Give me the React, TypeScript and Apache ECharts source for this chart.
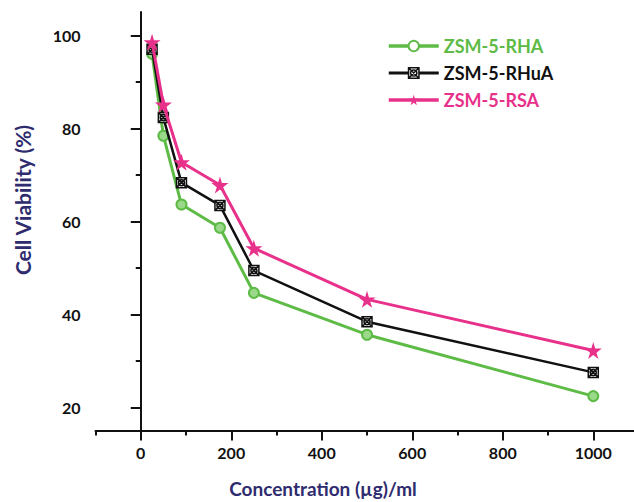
import React, { useEffect, useRef } from "react";
import * as echarts from "echarts";

const concentrations = [25, 50, 90, 175, 250, 500, 1000];
const rhaValues = [96.0, 78.4, 63.6, 58.6, 44.6, 35.6, 22.4];
const rhuaValues = [97.0, 82.3, 68.3, 63.4, 49.4, 38.4, 27.5];
const rsaValues = [98.5, 85.1, 72.7, 67.8, 54.2, 43.2, 32.2];
const seriesNames = ["ZSM-5-RHA", "ZSM-5-RHuA", "ZSM-5-RSA"];
const xMajorTicks = [0, 200, 400, 600, 800, 1000];
const xMinorTicks = [-100, 100, 300, 500, 700, 900];
const yMajorTicks = [20, 40, 60, 80, 100];
const yMinorTicks = [30, 50, 70, 90];
const xTitle = "Concentration (µg)/ml";
const yTitle = "Cell Viability (%)";

const GREEN = "#5DBB46";
const BLACK = "#111111";
const PINK = "#E8318A";
const NAVY = "#2E2B6E";
const FONT = "Lato, 'Open Sans', sans-serif";

const STAR =
  "path://M50,0 L61,35 L98,35 L68,57 L79,91 L50,70 L21,91 L32,57 L2,35 L39,35 Z";
const BOXX =
  "path://M0,0H20V20H0Z M0,0L20,20 M20,0L0,20 M16,10A6,6 0 1 1 4,10A6,6 0 1 1 16,10Z";

function pairs(vals: number[]) {
  return concentrations.map((c, i) => [c, vals[i]]);
}

export default function App() {
  const ref = useRef<HTMLDivElement>(null);
  useEffect(() => {
    if (!ref.current) return;
    const chart = echarts.init(ref.current, undefined, { renderer: "svg" });
    const X_MIN = -100;
    const X_MAX = 1090;
    const Y_MIN = 15;
    const Y_MAX = 105;
    const labelStyle = {
      color: "#111",
      fontWeight: "bold" as const,
      fontSize: 16,
      fontFamily: FONT,
    };
    chart.setOption({
      animation: false,
      backgroundColor: "#fff",
      grid: { left: 95.5, right: 0, top: 12, bottom: 71.5, containLabel: false },
      xAxis: [
        {
          type: "value",
          min: X_MIN,
          max: X_MAX,
          axisLine: { show: true, lineStyle: { color: "#111", width: 2 } },
          axisTick: {
            show: true,
            length: 10,
            customValues: xMajorTicks,
            lineStyle: { color: "#111", width: 2 },
          },
          axisLabel: {
            ...labelStyle,
            margin: 14,
            customValues: xMajorTicks,
            formatter: (v: number) => String(v),
          },
          splitLine: { show: false },
        },
        {
          type: "value",
          min: X_MIN,
          max: X_MAX,
          position: "bottom",
          axisLine: { show: false },
          axisTick: {
            show: true,
            length: 5,
            customValues: xMinorTicks,
            lineStyle: { color: "#111", width: 2 },
          },
          axisLabel: { show: false },
          splitLine: { show: false },
        },
      ],
      yAxis: [
        {
          type: "value",
          min: Y_MIN,
          max: Y_MAX,
          axisLine: { show: true, lineStyle: { color: "#111", width: 2 } },
          axisTick: {
            show: true,
            length: 10,
            customValues: yMajorTicks,
            lineStyle: { color: "#111", width: 2 },
          },
          axisLabel: {
            ...labelStyle,
            margin: 15,
            customValues: yMajorTicks,
            formatter: (v: number) => String(v),
          },
          splitLine: { show: false },
        },
        {
          type: "value",
          min: Y_MIN,
          max: Y_MAX,
          position: "left",
          axisLine: { show: false },
          axisTick: {
            show: true,
            length: 5,
            customValues: yMinorTicks,
            lineStyle: { color: "#111", width: 2 },
          },
          axisLabel: { show: false },
          splitLine: { show: false },
        },
      ],
      legend: {
        orient: "vertical",
        left: 382,
        top: 32,
        itemWidth: 50,
        itemHeight: 13,
        itemGap: 9,
        data: [
          {
            name: seriesNames[0],
            textStyle: { color: GREEN },
            itemStyle: { color: "#ffffff", borderColor: GREEN, borderWidth: 2 },
            lineStyle: { color: GREEN, width: 3.5 },
          },
          {
            name: seriesNames[1],
            textStyle: { color: BLACK },
            itemStyle: { color: "#ffffff", borderColor: BLACK, borderWidth: 1.5 },
            lineStyle: { color: BLACK, width: 3 },
          },
          {
            name: seriesNames[2],
            textStyle: { color: PINK },
            itemStyle: { color: PINK, borderWidth: 0 },
            lineStyle: { color: PINK, width: 3.5 },
          },
        ],
        textStyle: {
          fontSize: 18,
          lineHeight: 18,
          fontWeight: "bold",
          fontFamily: FONT,
        },
      },
      graphic: [
        {
          type: "text",
          x: 323,
          y: 488,
          style: {
            text: xTitle,
            fill: NAVY,
            font: `bold 19px ${FONT}`,
            align: "center",
            verticalAlign: "middle",
          },
        },
        {
          type: "text",
          x: 22,
          y: 200,
          rotation: Math.PI / 2,
          style: {
            text: yTitle,
            fill: NAVY,
            font: `bold 21px ${FONT}`,
            align: "center",
            verticalAlign: "middle",
          },
        },
      ],
      series: [
        {
          name: seriesNames[0],
          type: "line",
          data: pairs(rhaValues),
          symbol: "circle",
          symbolSize: 10,
          lineStyle: { color: GREEN, width: 3 },
          itemStyle: { color: "#9ad88a", borderColor: GREEN, borderWidth: 2 },
          z: 2,
        },
        {
          name: seriesNames[1],
          type: "line",
          data: pairs(rhuaValues),
          symbol: BOXX,
          symbolSize: 10,
          lineStyle: { color: BLACK, width: 2.5 },
          itemStyle: { color: "rgba(255,255,255,0.7)", borderColor: BLACK, borderWidth: 1.5 },
          z: 3,
        },
        {
          name: seriesNames[2],
          type: "line",
          data: pairs(rsaValues),
          symbol: STAR,
          symbolSize: 17,
          lineStyle: { color: PINK, width: 3 },
          itemStyle: { color: PINK, borderColor: PINK, borderWidth: 0 },
          z: 4,
        },
      ],
    });
    return () => chart.dispose();
  }, []);
  return (
    <div
      ref={ref}
      style={{ position: "fixed", left: 0, top: 0, width: 634, height: 502 }}
    />
  );
}
